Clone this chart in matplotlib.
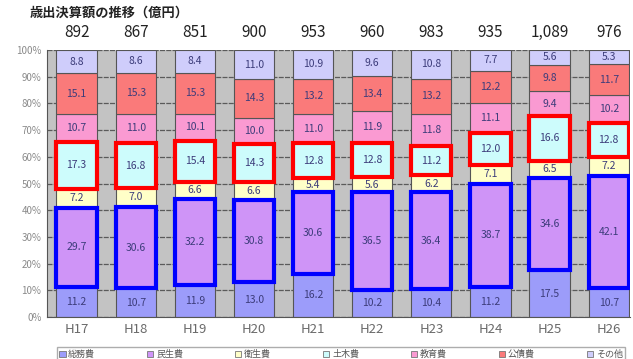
import matplotlib
matplotlib.use("Agg")
import matplotlib.pyplot as plt
from matplotlib.patches import Rectangle, Patch
import numpy as np

plt.rcParams['font.family'] = ['Noto Sans CJK JP', 'DejaVu Sans']

years = ["H17", "H18", "H19", "H20", "H21", "H22", "H23", "H24", "H25", "H26"]
totals = ["892", "867", "851", "900", "953", "960", "983", "935", "1,089", "976"]
categories = ["総務費", "民生費", "衛生費", "土木費", "教育費", "公債費", "その他"]

somu    = [11.2, 10.7, 11.9, 13.0, 16.2, 10.2, 10.4, 11.2, 17.5, 10.7]
minsei  = [29.7, 30.6, 32.2, 30.8, 30.6, 36.5, 36.4, 38.7, 34.6, 42.1]
eisei   = [7.2, 7.0, 6.6, 6.6, 5.4, 5.6, 6.2, 7.1, 6.5, 7.2]
doboku  = [17.3, 16.8, 15.4, 14.3, 12.8, 12.8, 11.2, 12.0, 16.6, 12.8]
kyoiku  = [10.7, 11.0, 10.1, 10.0, 11.0, 11.9, 11.8, 11.1, 9.4, 10.2]
kousai  = [15.1, 15.3, 15.3, 14.3, 13.2, 13.4, 13.2, 12.2, 9.8, 11.7]
sonota  = [8.8, 8.6, 8.4, 11.0, 10.9, 9.6, 10.8, 7.7, 5.6, 5.3]

series = [somu, minsei, eisei, doboku, kyoiku, kousai, sonota]
colors = ["#9c9cfa", "#cf94f7", "#ffffc8", "#cdfcfc", "#fa9ad2", "#fa7a7a", "#cfcdfb"]
box_colors = {1: "#0000ff", 3: "#ff0000"}

fig = plt.figure(figsize=(6.33, 3.59), dpi=100)
ax = fig.add_axes([47 / 633, 42 / 359, 583 / 633, 267 / 359])
ax.set_facecolor("#c3c3c3")

x = np.arange(len(years))
width = 0.68
bottom = np.zeros(len(years))
for k, (vals, col) in enumerate(zip(series, colors)):
    vals = np.array(vals)
    ax.bar(x, vals, width, bottom=bottom, color=col, edgecolor="#555555",
           linewidth=0.8, zorder=2)
    for i in range(len(years)):
        ax.text(x[i], bottom[i] + vals[i] / 2, f"{vals[i]:.1f}", ha="center",
                va="center", fontsize=7.5, color="#3c3c7a", zorder=4)
        if k in box_colors:
            ax.add_patch(Rectangle((x[i] - width / 2, bottom[i]), width, vals[i],
                                   fill=False, edgecolor=box_colors[k],
                                   linewidth=3, zorder=5))
    bottom += vals

ax.set_ylim(0, 100)
ax.set_xlim(-0.5, 9.36)
ax.set_yticks(np.arange(0, 101, 10))
ax.set_yticklabels([f"{v}%" for v in range(0, 101, 10)], fontsize=7, color="#8a8a8a")
ax.set_xticks(x)
ax.set_xticklabels(years, fontsize=9.5, color="#6a6a6a")
ax.tick_params(axis="both", length=0, pad=4)
ax.yaxis.grid(True, color="#5a5a5a", linewidth=0.9, linestyle=(0, (4, 1)), zorder=1)
ax.set_axisbelow(True)
for s in ["top", "right"]:
    ax.spines[s].set_visible(False)
ax.spines["left"].set_color("#555555")
ax.spines["bottom"].set_color("#555555")

for i, t in enumerate(totals):
    ax.text(x[i], 106.5, t, ha="center", va="center", fontsize=11, color="#222222",
            clip_on=False)

fig.text(30 / 633, 1 - 13 / 359, "歳出決算額の推移（億円）", fontsize=9.5,
         fontweight="bold", color="#222222", va="center", ha="left")

handles = [Patch(facecolor=c, edgecolor="#777777", linewidth=0.6) for c in colors]
fig.legend(handles, categories, loc="lower left", ncol=7, mode="expand",
           bbox_to_anchor=(52 / 633, -0.02, 578 / 633, 20 / 359), fontsize=6.5,
           frameon=True, edgecolor="#999999", fancybox=False, handlelength=0.7,
           handleheight=0.7, handletextpad=0.3, borderpad=0.3, labelcolor="#555555")

fig.savefig("out.png", dpi=100, facecolor="white")
